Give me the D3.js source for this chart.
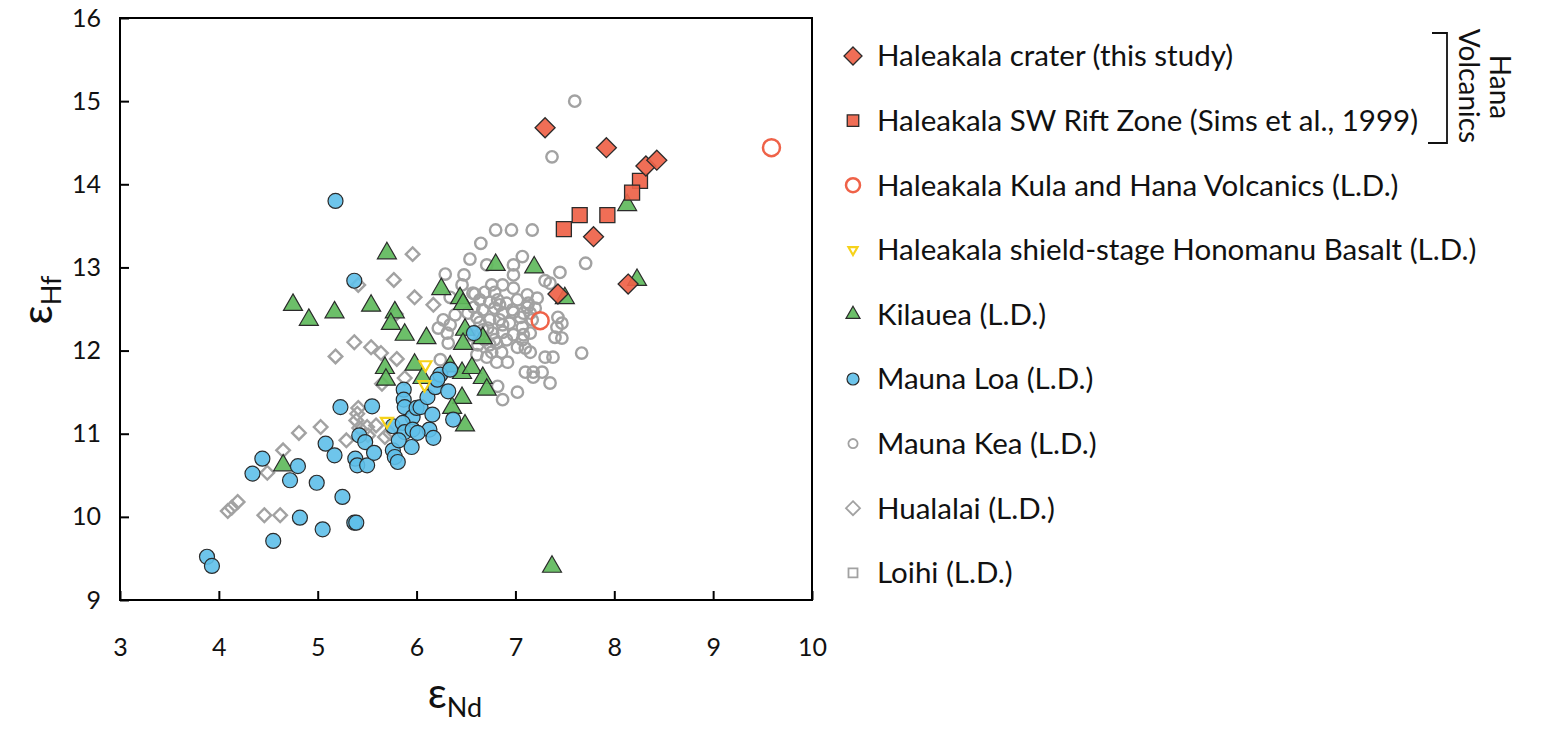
<!DOCTYPE html>
<html>
<head>
<meta charset="utf-8">
<script src="https://cdn.jsdelivr.net/npm/d3@7"></script>
<style>
  body { margin: 0; background: #fff; }
  svg { display: block; }
  text { font-family: Lato, "Open Sans", sans-serif; fill: #111; }
</style>
</head>
<body>
<svg id="chart" width="1541" height="729"></svg>
<script>
// ---- εNd / εHf data by volcano ----
const craterNd = [7.30, 7.92, 8.32, 8.43, 7.79, 8.14, 7.43];
const craterHf = [14.68, 14.44, 14.22, 14.29, 13.37, 12.80, 12.68];

const swRiftNd = [8.26, 8.18, 7.65, 7.93, 7.49];
const swRiftHf = [14.04, 13.90, 13.63, 13.63, 13.46];

const kulaHanaNd = [9.59, 7.25];
const kulaHanaHf = [14.44, 12.36];

const honomanuNd = [6.09, 6.08, 5.70];
const honomanuHf = [11.83, 11.59, 11.15];

const kilaueaNd = [5.70, 4.75, 4.91, 5.17, 5.54, 5.78, 5.74, 5.88, 6.10, 6.25,
  6.44, 6.47, 6.49, 6.67, 6.47, 5.98, 5.68, 5.69, 6.06, 6.34,
  6.46, 6.56, 6.67, 6.71, 6.46, 6.36, 6.49, 4.65, 7.37, 8.13,
  6.80, 7.19, 8.23, 7.50];
const kilaueaHf = [13.17, 12.55, 12.37, 12.46, 12.54, 12.46, 12.32, 12.19, 12.15, 12.74,
  12.63, 12.56, 12.25, 12.15, 12.08, 11.83, 11.79, 11.65, 11.67, 11.81,
  11.73, 11.79, 11.67, 11.53, 11.43, 11.31, 11.10, 10.62, 9.40, 13.75,
  13.03, 13.00, 12.85, 12.63];

const maunaLoaNd = [5.18, 5.37, 6.58, 5.23, 5.55, 4.44, 4.34, 4.80, 4.72, 5.08,
  5.17, 4.99, 5.25, 4.82, 5.05, 4.55, 5.37, 5.39, 3.88, 3.93,
  5.42, 5.48, 5.38, 5.40, 5.50, 5.57, 5.76, 5.76, 5.78, 5.81,
  5.87, 5.87, 5.88, 5.96, 5.86, 5.88, 5.96, 5.95, 6.00, 6.04,
  6.11, 6.16, 6.13, 6.01, 6.17, 6.19, 6.24, 6.34, 6.32, 6.37,
  6.21, 5.82];
const maunaLoaHf = [13.80, 12.84, 12.21, 11.32, 11.33, 10.70, 10.52, 10.61, 10.44, 10.88,
  10.74, 10.41, 10.24, 9.99, 9.85, 9.71, 9.93, 9.93, 9.52, 9.41,
  10.98, 10.90, 10.70, 10.62, 10.62, 10.77, 11.09, 10.80, 10.72, 10.66,
  11.53, 11.41, 11.32, 11.20, 11.13, 11.02, 11.05, 10.84, 11.31, 11.32,
  11.44, 11.23, 11.05, 11.01, 10.95, 11.56, 11.71, 11.77, 11.51, 11.17,
  11.65, 10.92];

const maunaKeaNd = [7.60, 7.37, 6.80, 6.96, 7.17, 6.65, 6.54, 6.71, 7.07, 6.98,
  6.98, 7.45, 7.71, 6.48, 6.29, 7.30, 7.35, 7.12, 7.22, 6.76,
  6.87, 6.69, 6.79, 6.59, 6.98, 6.46, 6.34, 6.64, 6.74, 6.82,
  6.91, 7.02, 7.13, 6.58, 6.67, 6.79, 6.87, 6.98, 7.08, 7.20,
  7.43, 7.47, 6.74, 6.84, 6.94, 7.07, 7.17, 7.42, 6.67, 6.77,
  6.87, 6.98, 7.08, 7.15, 7.40, 7.47, 6.84, 6.97, 7.12, 7.05,
  6.64, 6.87, 7.15, 7.07, 7.02, 6.91, 6.81, 6.76, 6.86, 6.92,
  6.81, 6.71, 6.61, 7.10, 7.15, 7.30, 7.38, 7.67, 7.10, 7.18,
  7.27, 7.18, 7.35, 6.82, 7.02, 6.87, 6.27, 6.34, 6.22, 6.31,
  6.61, 6.52, 6.57, 6.32, 6.39, 6.69, 6.62, 6.54, 6.74, 6.64,
  6.72, 6.79, 6.24];
const maunaKeaHf = [15.00, 14.33, 13.45, 13.45, 13.45, 13.29, 13.10, 13.03, 13.13, 13.03,
  12.91, 12.94, 13.05, 12.91, 12.92, 12.84, 12.81, 12.67, 12.63, 12.79,
  12.79, 12.70, 12.70, 12.68, 12.75, 12.79, 12.64, 12.61, 12.58, 12.61,
  12.57, 12.61, 12.57, 12.52, 12.49, 12.51, 12.45, 12.46, 12.45, 12.51,
  12.40, 12.33, 12.37, 12.37, 12.33, 12.28, 12.37, 12.28, 12.25, 12.21,
  12.22, 12.19, 12.19, 12.21, 12.16, 12.15, 12.55, 12.49, 12.52, 12.40,
  12.34, 12.31, 12.45, 12.13, 12.04, 12.13, 12.09, 11.98, 11.98, 11.86,
  11.86, 11.92, 11.95, 12.03, 11.98, 11.92, 11.92, 11.97, 11.74, 11.74,
  11.74, 11.68, 11.61, 11.57, 11.50, 11.41, 12.37, 12.31, 12.27, 12.21,
  12.40, 12.45, 12.69, 12.09, 12.43, 12.13, 12.07, 12.19, 12.07, 12.19,
  12.27, 12.13, 11.89];

const hualalaiNd = [5.96, 5.77, 5.41, 5.98, 6.17, 5.79, 5.18, 5.37, 5.54, 5.64,
  5.80, 5.65, 5.88, 4.81, 5.03, 4.65, 4.49, 4.19, 4.09, 4.13,
  4.46, 4.62, 5.41, 5.40, 5.39, 5.42, 5.50, 5.59, 5.51, 5.29,
  5.73, 5.68];
const hualalaiHf = [13.16, 12.85, 12.79, 12.64, 12.55, 12.44, 11.93, 12.10, 12.04, 11.97,
  11.90, 11.60, 11.67, 11.01, 11.08, 10.80, 10.53, 10.18, 10.07, 10.11,
  10.02, 10.02, 11.31, 11.24, 11.16, 11.07, 11.08, 11.10, 10.98, 10.92,
  11.01, 10.96];

const loihiNd = [];
const loihiHf = [];

const xTicks = [3, 4, 5, 6, 7, 8, 9, 10];
const yTicks = [9, 10, 11, 12, 13, 14, 15, 16];

const legendLabels = [
  "Haleakala crater (this study)",
  "Haleakala SW Rift Zone (Sims et al., 1999)",
  "Haleakala Kula and Hana Volcanics (L.D.)",
  "Haleakala shield-stage Honomanu Basalt (L.D.)",
  "Kilauea (L.D.)",
  "Mauna Loa (L.D.)",
  "Mauna Kea (L.D.)",
  "Hualalai (L.D.)",
  "Loihi (L.D.)"
];

// ---- marker styles ----
const RED = "#ef6248", GREEN = "#5fba5c", BLUE = "#5ebfe9", GRAY = "#a2a2a2", YELLOW = "#f6d21a";

const styles = {
  crater:   { shape: "diamond",  size: 10,  fill: RED,   stroke: "#2b2b2b", sw: 1.3, fo: 0.92 },
  swRift:   { shape: "square",   size: 15,  fill: RED,   stroke: "#2b2b2b", sw: 1.3, fo: 0.92 },
  kula:     { shape: "circle",   size: 8.5, fill: "none", stroke: RED,      sw: 2.5, fo: 1 },
  honomanu: { shape: "triDown",  size: 12,  fill: "none", stroke: YELLOW,   sw: 2.2, fo: 1 },
  kilauea:  { shape: "triUp",    size: 19,  fill: GREEN, stroke: "#2b2b2b", sw: 1.2, fo: 0.92 },
  maunaLoa: { shape: "circle",   size: 7.5, fill: BLUE,  stroke: "#2b2b2b", sw: 1.2, fo: 0.9 },
  maunaKea: { shape: "circle",   size: 5.7, fill: "none", stroke: GRAY,     sw: 2.4, fo: 1 },
  hualalai: { shape: "diamond",  size: 6.8, fill: "none", stroke: GRAY,     sw: 2.4, fo: 1 },
  loihi:    { shape: "square",   size: 11,  fill: "none", stroke: GRAY,     sw: 2.4, fo: 1 }
};

// path for a marker of the given style, centred at origin
function markerPath(shape, s) {
  switch (shape) {
    case "diamond": return `M0,${-s}L${s},0L0,${s}L${-s},0Z`;
    case "square": { const h = s / 2; return `M${-h},${-h}H${h}V${h}H${-h}Z`; }
    case "triUp": { const h = s * Math.sqrt(3) / 2; return `M0,${-h * 2 / 3}L${s / 2},${h / 3}L${-s / 2},${h / 3}Z`; }
    case "triDown": { const h = s * Math.sqrt(3) / 2; return `M0,${h * 2 / 3}L${s / 2},${-h / 3}L${-s / 2},${-h / 3}Z`; }
  }
}

const svg = d3.select("#chart");
const plot = { left: 120, right: 812, top: 18, bottom: 600 };

const x = d3.scaleLinear().domain([3, 10]).range([plot.left, plot.right]);
const y = d3.scaleLinear().domain([9, 16]).range([plot.bottom, plot.top]);

// ---- axes (ticks point into the plot) ----
const gx = svg.append("g")
  .attr("transform", `translate(0,${plot.bottom})`)
  .call(d3.axisBottom(x).tickValues(xTicks).tickFormat(d3.format("d"))
    .tickSizeInner(-9).tickSizeOuter(0).tickPadding(38));
const gy = svg.append("g")
  .attr("transform", `translate(${plot.left},0)`)
  .call(d3.axisLeft(y).tickValues(yTicks).tickFormat(d3.format("d"))
    .tickSizeInner(-9).tickSizeOuter(0).tickPadding(19));
[gx, gy].forEach(g => {
  g.select(".domain").remove();
  g.selectAll(".tick line").attr("stroke", "#000").attr("stroke-width", 2);
  g.selectAll(".tick text").attr("font-size", 25).attr("fill", "#111")
    .style("font-family", "Lato, 'Open Sans', sans-serif");
});

// frame
svg.append("rect")
  .attr("x", plot.left).attr("y", plot.top)
  .attr("width", plot.right - plot.left).attr("height", plot.bottom - plot.top)
  .attr("fill", "none").attr("stroke", "#000").attr("stroke-width", 2);

// ---- axis titles ----
const xt = svg.append("text").attr("x", 455).attr("y", 708).attr("text-anchor", "middle");
xt.append("tspan").attr("font-size", 42).text("ε");
xt.append("tspan").attr("font-size", 27).attr("dy", 9).text("Nd");

const yt = svg.append("text").attr("transform", "translate(52,300) rotate(-90)").attr("text-anchor", "middle");
yt.append("tspan").attr("font-size", 42).text("ε");
yt.append("tspan").attr("font-size", 27).attr("dy", 9).text("Hf");

// ---- data points ----
const series = [
  { key: "hualalai", nd: hualalaiNd, hf: hualalaiHf },
  { key: "loihi",    nd: loihiNd,    hf: loihiHf },
  { key: "maunaKea", nd: maunaKeaNd, hf: maunaKeaHf },
  { key: "kilauea",  nd: kilaueaNd,  hf: kilaueaHf },
  { key: "maunaLoa", nd: maunaLoaNd, hf: maunaLoaHf },
  { key: "honomanu", nd: honomanuNd, hf: honomanuHf },
  { key: "kula",     nd: kulaHanaNd, hf: kulaHanaHf },
  { key: "swRift",   nd: swRiftNd,   hf: swRiftHf },
  { key: "crater",   nd: craterNd,   hf: craterHf }
];

function drawMarker(sel, st) {
  if (st.shape === "circle") {
    sel.append("circle").attr("r", st.size);
  } else {
    sel.append("path").attr("d", markerPath(st.shape, st.size));
  }
  sel.selectAll("circle,path")
    .attr("fill", st.fill).attr("fill-opacity", st.fo)
    .attr("stroke", st.stroke).attr("stroke-width", st.sw)
    .attr("stroke-linejoin", "miter");
}

const gPts = svg.append("g");
series.forEach(s => {
  const st = styles[s.key];
  const pts = s.nd.map((v, i) => ({ nd: v, hf: s.hf[i] }));
  gPts.append("g").selectAll("g").data(pts).join("g")
    .attr("transform", d => `translate(${x(d.nd)},${y(d.hf)})`)
    .each(function () { drawMarker(d3.select(this), st); });
});

// ---- legend ----
const legendKeys = ["crater", "swRift", "kula", "honomanu", "kilauea", "maunaLoa", "maunaKea", "hualalai", "loihi"];
const legendMarker = {
  crater: 9, swRift: 11.5, kula: 7, honomanu: 9, kilauea: 14, maunaLoa: 6, maunaKea: 4.6, hualalai: 7, loihi: 9
};
const legend = svg.append("g");
legendKeys.forEach((k, i) => {
  const cy = 56 + i * 64.6;
  const st = Object.assign({}, styles[k], { size: legendMarker[k] });
  if (k === "maunaKea" || k === "hualalai" || k === "loihi") st.sw = 1.8;
  const m = legend.append("g").attr("transform", `translate(853,${cy})`);
  drawMarker(m, st);
  legend.append("text").attr("x", 877).attr("y", cy).attr("dy", "0.35em")
    .attr("font-size", 29.5).text(legendLabels[i]);
});

// bracket grouping the Hana Volcanics entries
svg.append("path")
  .attr("d", "M1432,33H1447V143H1428")
  .attr("fill", "none").attr("stroke", "#111").attr("stroke-width", 1.8);
svg.append("text").attr("transform", "translate(1459,86) rotate(90)")
  .attr("text-anchor", "middle").attr("font-size", 28).text("Volcanics");
svg.append("text").attr("transform", "translate(1490,87) rotate(90)")
  .attr("text-anchor", "middle").attr("font-size", 28).text("Hana");
</script>
</body>
</html>
